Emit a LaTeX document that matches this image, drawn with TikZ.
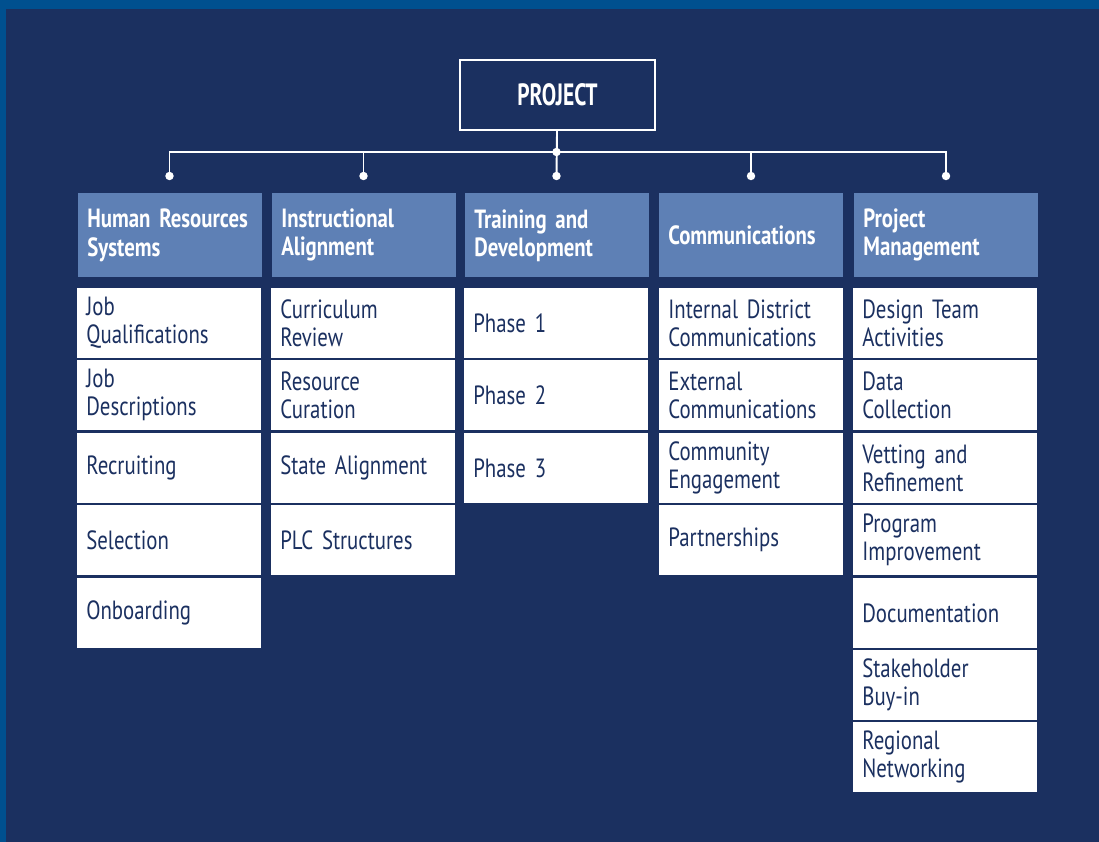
\documentclass[tikz,border=0pt]{standalone}
\usepackage{fontspec}
\setmainfont[FakeStretch=0.79]{PT Sans}
\newfontfamily\topfont[FakeStretch=0.7]{PT Sans}
\usepackage{tikz}
\usetikzlibrary{positioning}
\definecolor{bordercol}{HTML}{00508F}
\definecolor{navy}{HTML}{1B3060}
\definecolor{headblue}{HTML}{5E80B5}

\begin{document}
\begin{tikzpicture}[
				x=0.02cm, y=-0.02cm,
				topnode/.style={draw=white, line width=1.1pt, text=white, font=\topfont\fontsize{17.5}{19}\selectfont\bfseries, minimum width=3.9cm, minimum height=1.4cm, anchor=north west},
				headnode/.style={fill=headblue, text=white, font=\fontsize{15}{16}\selectfont\bfseries, text width=3.32cm, inner xsep=0.18cm, inner ysep=0pt, minimum height=1.68cm, align=left, anchor=north west},
				itemnode/.style={fill=white, text=navy, font=\fontsize{15}{16}\selectfont, text width=3.32cm, inner xsep=0.18cm, inner ysep=0pt, minimum height=1.39cm, align=left, anchor=north west},
				link/.style={draw=white, line width=1.1pt},
				]
				%Background
				\fill[bordercol] (0,0) rectangle (1099,842);
				\fill[navy] (6,9) rectangle (1099,842);

				%Top
				\node[topnode]      (project) 	at 	(459,59)       {PROJECT};

				%Headers
				\node[headnode]     (hr) 	at 	(78,193)       {Human Resources\\Systems};
				\node[headnode]     (ia) 	at 	(272,193)      {Instructional\\Alignment};
				\node[headnode]     (td) 	at 	(465,193)      {Training and\\Development};
				\node[headnode]     (cm) 	at 	(659,193)      {Communications};
				\node[headnode]     (pm) 	at 	(854,193)      {Project\\Management};

				%Human Resources Systems
				\node[itemnode]     (hr1) 	at 	(77,288)       {Job\\Qualifications};
				\node[itemnode]     (hr2) 	at 	(77,360)       {Job\\Descriptions};
				\node[itemnode]     (hr3) 	at 	(77,433)       {Recruiting};
				\node[itemnode]     (hr4) 	at 	(77,505)       {Selection};
				\node[itemnode]     (hr5) 	at 	(77,578)       {Onboarding};

				%Instructional Alignment
				\node[itemnode]     (ia1) 	at 	(271,288)      {Curriculum\\Review};
				\node[itemnode]     (ia2) 	at 	(271,360)      {Resource\\Curation};
				\node[itemnode]     (ia3) 	at 	(271,433)      {State Alignment};
				\node[itemnode]     (ia4) 	at 	(271,505)      {PLC Structures};

				%Training and Development
				\node[itemnode]     (td1) 	at 	(464,288)      {Phase 1};
				\node[itemnode]     (td2) 	at 	(464,360)      {Phase 2};
				\node[itemnode]     (td3) 	at 	(464,433)      {Phase 3};

				%Communications
				\node[itemnode]     (cm1) 	at 	(659,288)      {Internal District\\Communications};
				\node[itemnode]     (cm2) 	at 	(659,360)      {External\\Communications};
				\node[itemnode]     (cm3) 	at 	(659,433)      {Community\\Engagement};
				\node[itemnode]     (cm4) 	at 	(659,505)      {Partnerships};

				%Project Management
				\node[itemnode]     (pm1) 	at 	(853,288)      {Design Team\\Activities};
				\node[itemnode]     (pm2) 	at 	(853,360)      {Data\\Collection};
				\node[itemnode]     (pm3) 	at 	(853,433)      {Vetting and\\Refinement};
				\node[itemnode]     (pm4) 	at 	(853,505)      {Program\\Improvement};
				\node[itemnode]     (pm5) 	at 	(853,578)      {Documentation};
				\node[itemnode]     (pm6) 	at 	(853,650)      {Stakeholder\\Buy-in};
				\node[itemnode]     (pm7) 	at 	(853,722)      {Regional\\Networking};

				%Lines
				\coordinate (bar) at (556.5,152);
				\coordinate (d1) at (169.5,176);
				\coordinate (d2) at (363.5,176);
				\coordinate (d3) at (556.5,176);
				\coordinate (d4) at (751,176);
				\coordinate (d5) at (946,176);
				\draw[link] (d1) |- (bar) -| (d5);
				\draw[link] (d2) -- (d2 |- bar);
				\draw[link] (d4) -- (d4 |- bar);
				\draw[link] (project) -- (d3);
				\fill[white] (bar) circle (2.4pt);
				\fill[white] (d1) circle (2.4pt);
				\fill[white] (d2) circle (2.4pt);
				\fill[white] (d3) circle (2.4pt);
				\fill[white] (d4) circle (2.4pt);
				\fill[white] (d5) circle (2.4pt);
			\end{tikzpicture}
\end{document}
